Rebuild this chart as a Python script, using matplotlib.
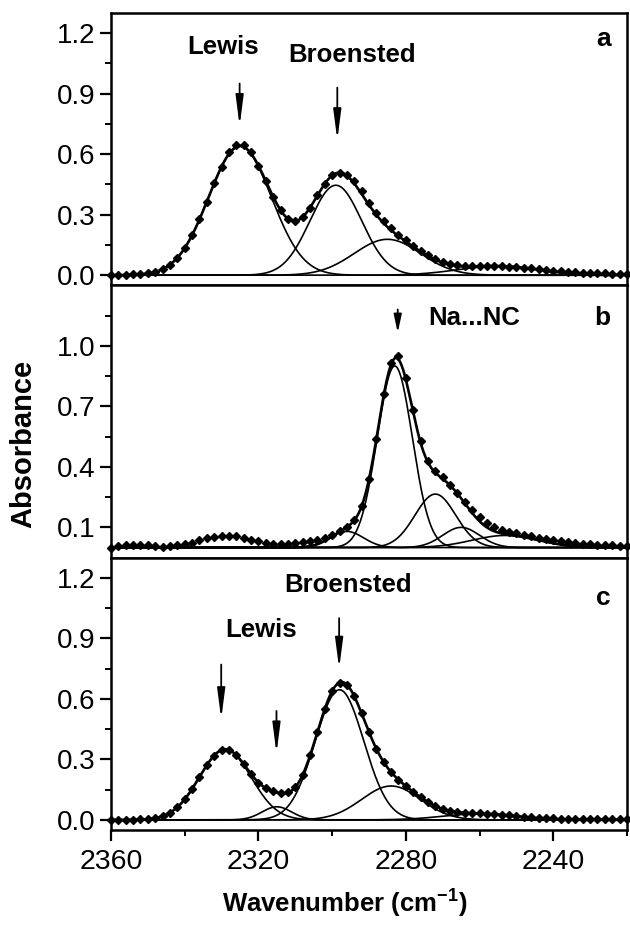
import numpy as np
import matplotlib
matplotlib.use("Agg")
import matplotlib.pyplot as plt
from matplotlib.ticker import MultipleLocator, FixedLocator

plt.rcParams.update({
    "font.family": ["Liberation Sans", "DejaVu Sans"],
    "font.size": 18,
    "axes.linewidth": 1.8,
    "xtick.major.width": 1.6, "ytick.major.width": 1.6,
    "xtick.minor.width": 1.4, "ytick.minor.width": 1.4,
    "xtick.major.size": 8, "ytick.major.size": 8,
    "xtick.minor.size": 4.5, "ytick.minor.size": 4.5,
    "xtick.direction": "out", "ytick.direction": "out",
})

# measured spectrum grid (cm-1)
WAVENUMBER = np.arange(2360, 2219, -2)

# measured absorbance (diamonds), panels a / b / c
ABS_A = [0.002, 0.002, 0.003, 0.004, 0.006, 0.010, 0.017, 0.030, 0.053, 0.087,
         0.135, 0.199, 0.277, 0.365, 0.456, 0.538, 0.610, 0.645, 0.646, 0.612,
         0.543, 0.467, 0.389, 0.323, 0.281, 0.269, 0.288, 0.335, 0.396, 0.453,
         0.495, 0.509, 0.498, 0.465, 0.415, 0.360, 0.310, 0.268, 0.232, 0.201,
         0.174, 0.147, 0.121, 0.099, 0.080, 0.066, 0.056, 0.050, 0.047, 0.046,
         0.046, 0.046, 0.046, 0.045, 0.043, 0.041, 0.038, 0.034, 0.030, 0.026,
         0.022, 0.019, 0.016, 0.014, 0.012, 0.011, 0.010, 0.009, 0.008, 0.007,
         0.007]
ABS_B = [0.000, 0.008, 0.012, 0.015, 0.012, 0.015, 0.010, 0.005, 0.006, 0.012,
         0.018, 0.025, 0.035, 0.045, 0.052, 0.055, 0.058, 0.055, 0.048, 0.038,
         0.030, 0.024, 0.020, 0.018, 0.018, 0.022, 0.027, 0.032, 0.038, 0.048,
         0.062, 0.082, 0.103, 0.137, 0.205, 0.340, 0.540, 0.760, 0.915, 0.950,
         0.840, 0.680, 0.530, 0.430, 0.380, 0.348, 0.312, 0.272, 0.228, 0.188,
         0.152, 0.124, 0.102, 0.088, 0.078, 0.070, 0.062, 0.055, 0.048, 0.042,
         0.036, 0.031, 0.027, 0.023, 0.020, 0.017, 0.015, 0.013, 0.011, 0.010,
         0.009]
ABS_C = [0.000, 0.000, 0.001, 0.001, 0.002, 0.004, 0.009, 0.018, 0.035, 0.062,
         0.102, 0.153, 0.212, 0.271, 0.319, 0.346, 0.346, 0.321, 0.277, 0.227,
         0.185, 0.158, 0.141, 0.132, 0.136, 0.163, 0.224, 0.320, 0.436, 0.551,
         0.639, 0.681, 0.671, 0.614, 0.528, 0.436, 0.353, 0.287, 0.238, 0.200,
         0.168, 0.139, 0.113, 0.089, 0.069, 0.055, 0.045, 0.038, 0.035, 0.033,
         0.032, 0.030, 0.028, 0.025, 0.022, 0.018, 0.015, 0.012, 0.010, 0.008,
         0.007, 0.006, 0.005, 0.005, 0.004, 0.004, 0.004, 0.003, 0.003, 0.003,
         0.003]

# fitted band components: position (cm-1), height, FWHM (cm-1)
POS_A = [2325, 2299, 2285, 2255]
HEIGHT_A = [0.64, 0.446, 0.178, 0.045]
FWHM_A = [20.0, 16.5, 21.2, 25.9]

POS_B = [2296, 2283, 2272, 2265, 2253]
HEIGHT_B = [0.08, 0.90, 0.265, 0.10, 0.06]
FWHM_B = [10.6, 11.2, 13.0, 11.8, 21.2]

POS_C = [2329, 2315, 2298, 2284, 2260]
HEIGHT_C = [0.35, 0.065, 0.645, 0.168, 0.03]
FWHM_C = [16.5, 9.4, 15.5, 18.8, 23.5]

YTICKS_A = [0.0, 0.3, 0.6, 0.9, 1.2]
YTICKS_B = [0.1, 0.4, 0.7, 1.0]
YTICKS_C = [0.0, 0.3, 0.6, 0.9, 1.2]


def band(x, pos, h, fwhm):
    s = fwhm / 2.3548
    return h * np.exp(-(x - pos) ** 2 / (2 * s * s))


def draw_panel(ax, absorb, pos, heights, fwhm, yticks, letter, letter_y):
    xf = np.linspace(2360, 2220, 800)
    total = np.zeros_like(xf)
    for p, h, w in zip(pos, heights, fwhm):
        comp = band(xf, p, h, w)
        total += comp
        ax.plot(xf, comp, color="black", lw=1.2)
    ax.plot(xf, total, color="black", lw=1.9)
    ax.plot(WAVENUMBER, absorb, ls="none", marker="D", ms=4.4, color="black",
            clip_on=False, zorder=3)
    ax.set_ylim(-0.05, 1.3)
    ax.yaxis.set_major_locator(FixedLocator(yticks))
    ax.yaxis.set_minor_locator(FixedLocator([t + 0.15 for t in yticks]))
    ax.set_yticklabels([f"{t:.1f}" for t in yticks])
    ax.text(2224.5, letter_y, letter, ha="right", va="center",
            fontsize=19, fontweight="bold")


def arrow(ax, x, y0, y1, hl=1.0):
    ax.annotate("", xy=(x, y1), xytext=(x, y0),
                arrowprops=dict(arrowstyle=f"-|>,head_length={hl},head_width=0.13",
                                color="black", lw=1.3, shrinkA=0, shrinkB=0))


fig, axes = plt.subplots(3, 1, sharex=True, figsize=(6.3, 9.26), dpi=100)
fig.subplots_adjust(left=0.1762, right=0.9952, top=0.986, bottom=0.1037, hspace=0)
ax_a, ax_b, ax_c = axes

draw_panel(ax_a, ABS_A, POS_A, HEIGHT_A, FWHM_A, YTICKS_A, "a", 1.17)
draw_panel(ax_b, ABS_B, POS_B, HEIGHT_B, FWHM_B, YTICKS_B, "b", 1.14)
draw_panel(ax_c, ABS_C, POS_C, HEIGHT_C, FWHM_C, YTICKS_C, "c", 1.10)

for ax in axes:
    ax.set_xlim(2360, 2220)
    ax.xaxis.set_major_locator(MultipleLocator(40))
    ax.xaxis.set_minor_locator(MultipleLocator(20))
    ax.tick_params(axis="y", which="both", right=False, labelsize=20)
    ax.tick_params(axis="x", which="both", top=False)
for ax in (ax_a, ax_b):
    ax.tick_params(axis="x", which="both", length=0, labelbottom=False)
ax_c.tick_params(axis="x", labelsize=20.5, pad=6)

lab = dict(fontsize=18.5, fontweight="bold", ha="center", va="center")
# panel a
ax_a.text(2329.5, 1.13, "Lewis", **lab)
ax_a.text(2294.6, 1.09, "Broensted", **lab)
arrow(ax_a, 2325.1, 0.95, 0.74)
arrow(ax_a, 2298.6, 0.93, 0.67)
# panel b
ax_b.text(2273.8, 1.14, "Na...NC", fontsize=18.5, fontweight="bold", ha="left", va="center")
arrow(ax_b, 2282.2, 1.18, 1.065, hl=0.6)
# panel c
ax_c.text(2295.7, 1.165, "Broensted", **lab)
ax_c.text(2319.3, 0.94, "Lewis", **lab)
arrow(ax_c, 2330.1, 0.77, 0.50)
arrow(ax_c, 2315.1, 0.54, 0.33)
arrow(ax_c, 2298.1, 1.0, 0.75)

fig.text(23 / 630, 1 - 444 / 926, "Absorbance", rotation=90, ha="center", va="center",
         fontsize=21, fontweight="bold")
fig.text(345 / 630, 1 - 903 / 926, "Wavenumber (cm$^{\\mathregular{-1}}$)", ha="center",
         va="center", fontsize=18.5, fontweight="bold")

fig.savefig("out.png", dpi=100)
